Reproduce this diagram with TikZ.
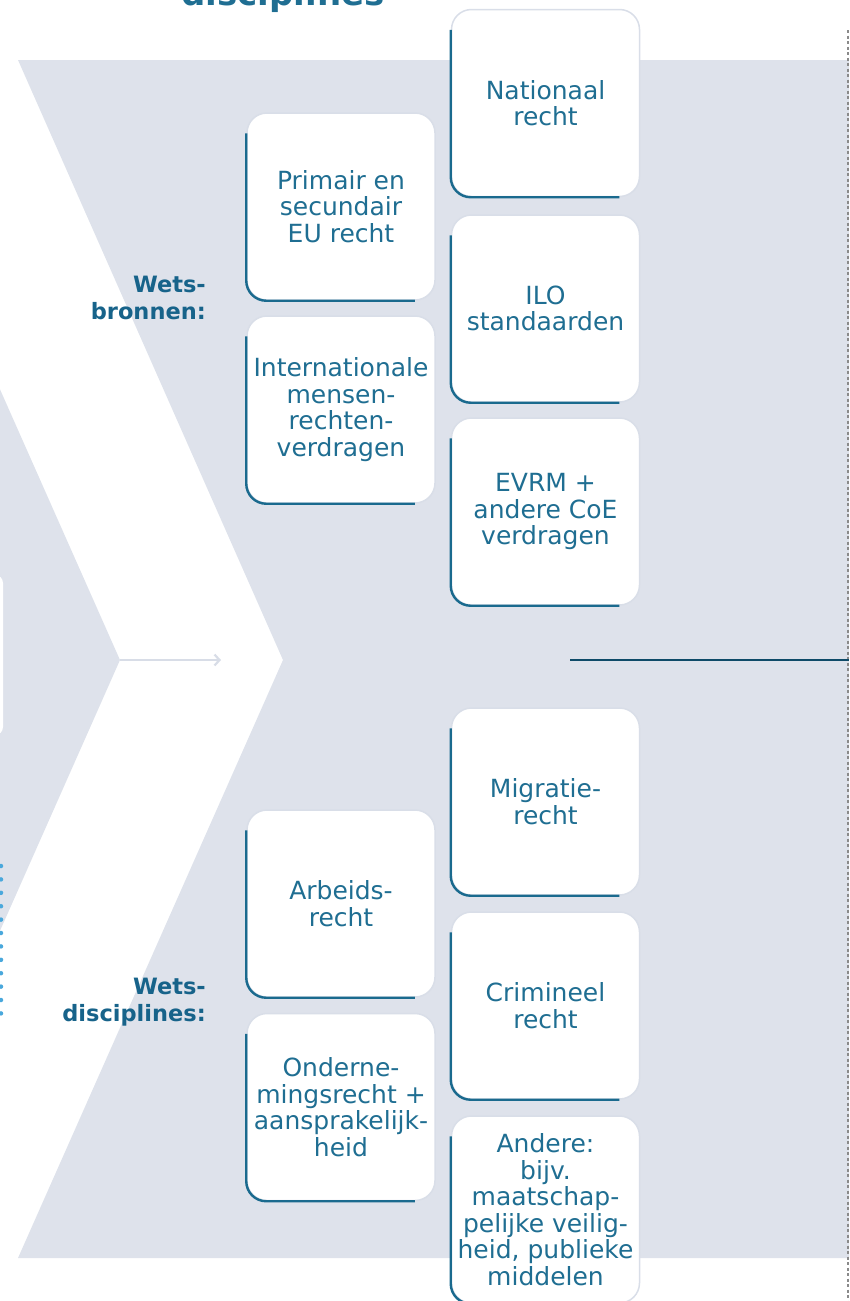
\documentclass[tikz,border=0pt]{standalone}
\usepackage{fontspec}
\setmainfont{DejaVu Sans}
\usetikzlibrary{arrows.meta}
\definecolor{bggrey}{HTML}{DEE2EB}
\definecolor{boxborder}{HTML}{D9DEE8}
\definecolor{textteal}{HTML}{1F6E92}
\definecolor{labteal}{HTML}{17638A}
\definecolor{accentteal}{HTML}{1A6A8E}
\definecolor{darkline}{HTML}{0E4A68}
\definecolor{dotblue}{HTML}{4AA8DC}
\definecolor{arrowgrey}{HTML}{D8DDE7}
\definecolor{dashgrey}{HTML}{8A8A8A}
\begin{document}
\begin{tikzpicture}[x=1pt,y=-1pt,
  textbox/.style={rectangle, rounded corners=20pt, fill=white, draw=boxborder,
    line width=1.5pt, minimum width=188pt, minimum height=187pt, inner sep=2pt,
    align=center, text=textteal, font=\fontsize{25}{26.5}\selectfont},
  accent/.style={draw=accentteal, line width=2.4pt, rounded corners=20pt},
  lab/.style={inner sep=0pt, align=right, text=labteal,
    font=\fontsize{22.5}{27}\selectfont\bfseries, anchor=east},
  titletext/.style={inner sep=0pt, text=textteal, anchor=base,
    font=\fontsize{34}{40}\selectfont\bfseries}]
\useasboundingbox (0,0) rectangle (849,1301);
% backgrounds
\fill[bggrey] (18,60) -- (849,60) -- (849,1258) -- (18,1258) -- (283,660) -- cycle;
\fill[bggrey] (-300,60) -- (-146,60) -- (120,660) -- (-145,1258) -- (-300,1258) -- cycle;
\fill[white, rounded corners=8pt] (-200,575) rectangle (3,735);
% title (cut off)
\node[titletext] (title) at (283,5) {disciplines};
% right dashed line
\coordinate (dashA) at (848,30);
\coordinate (dashB) at (848,1301);
\draw[dashgrey, line width=1.2pt, dash pattern=on 3pt off 2.5pt] (dashA) -- (dashB);
% dotted blue line
\coordinate (dotA) at (1,866);
\coordinate (dotB) at (1,1026);
\draw[dotblue, line width=4.5pt, line cap=round, dash pattern=on 0pt off 13.4pt] (dotA) -- (dotB);
% arrow in white chevron
\coordinate (arrA) at (120,660);
\coordinate (arrB) at (221,660);
\draw[arrowgrey, line width=2.2pt, -{Straight Barb[length=5pt,width=11pt,line width=2.2pt]}] (arrA) -- (arrB);
% dark line
\coordinate (lineA) at (570,660);
\coordinate (lineB) at (849,660);
\draw[darkline, line width=2.2pt] (lineA) -- (lineB);
% labels
\node[lab] (wb) at (206,298) {Wets-\\bronnen:};
\node[lab] (wd) at (206,1002) {Wets-\\disciplines:};
% column 1
\node[textbox] (b1) at (341,206.5) {Primair en\\secundair\\EU recht};
\node[textbox] (b2) at (341,409.5) {Internationale\\mensen-\\rechten-\\verdragen};
\node[textbox] (b3) at (341,903.5) {Arbeids-\\recht};
\node[textbox] (b4) at (341,1107) {Onderne-\\mingsrecht +\\aansprakelijk-\\heid};
% column 2
\node[textbox] (c1) at (545.5,103) {Nationaal\\recht};
\node[textbox] (c2) at (545.5,308.5) {ILO\\standaarden};
\node[textbox] (c3) at (545.5,511.5) {EVRM +\\andere CoE\\verdragen};
\node[textbox] (c4) at (545.5,801.5) {Migratie-\\recht};
\node[textbox] (c5) at (545.5,1005.5) {Crimineel\\recht};
\node[textbox] (c6) at (545.5,1209.5) {Andere:\\bijv.\\maatschap-\\pelijke veilig-\\heid, publieke\\middelen};
% accents
\foreach \n in {b1,b2,b3,b4,c1,c2,c3,c4,c5,c6}{
  \draw[accent] ([yshift=-21pt]\n.north west) -- (\n.south west) -- ([xshift=-21pt]\n.south east);
}
\end{tikzpicture}
\end{document}
